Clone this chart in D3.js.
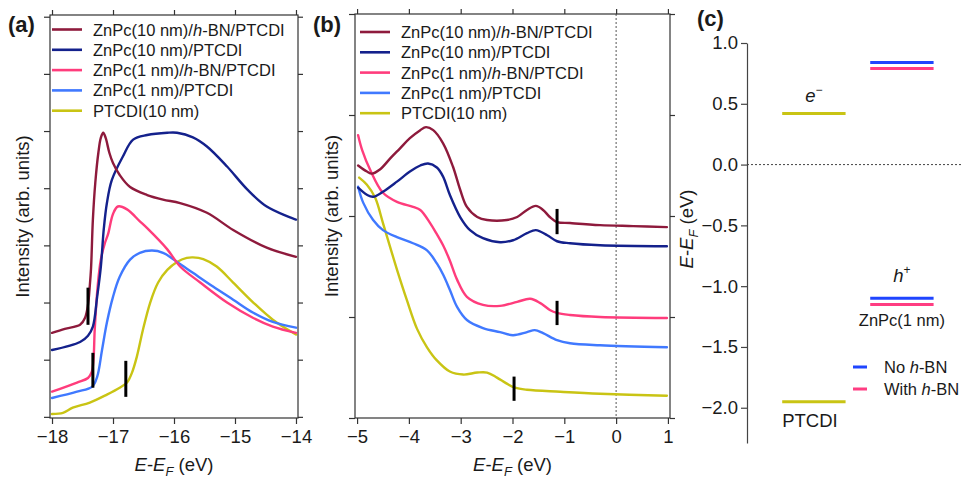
<!DOCTYPE html>
<html><head><meta charset="utf-8">
<script src="https://cdn.jsdelivr.net/npm/d3@7"></script>
<style>
body{margin:0;background:#fff;}
svg text{font-family:"Liberation Sans",Arial,Helvetica,sans-serif;fill:#1a1a1a;}
</style></head><body>
<svg id="fig" width="961" height="479"></svg>
<script>
// ---------- data: (a) secondary-electron cutoff region, [E-EF (eV), intensity] ----------
const cutoffZnPc10hBN = [[-18,1.47],[-17.79,1.54],[-17.54,1.61],[-17.46,1.73],[-17.41,1.96],[-17.38,2.30],[-17.36,2.60],[-17.33,3.45],[-17.29,4.10],[-17.24,4.62],[-17.20,4.88],[-17.16,4.97],[-17.12,4.88],[-17.06,4.62],[-17.0,4.44],[-16.89,4.23],[-16.72,4.02],[-16.44,3.88],[-16.18,3.80],[-15.90,3.74],[-15.46,3.57],[-15.03,3.27],[-14.48,2.96],[-14.0,2.80]];
const cutoffZnPc10 = [[-18,1.17],[-17.54,1.31],[-17.41,1.42],[-17.33,1.58],[-17.26,2.10],[-17.20,2.62],[-17.15,3.30],[-17.10,3.74],[-17.02,4.14],[-16.84,4.55],[-16.67,4.85],[-16.44,4.93],[-16.11,4.97],[-15.95,4.97],[-15.69,4.89],[-15.46,4.73],[-15.13,4.38],[-14.80,3.98],[-14.48,3.68],[-14.0,3.45]];
const cutoffZnPc1hBN = [[-18,0.44],[-17.59,0.60],[-17.41,0.68],[-17.35,0.78],[-17.32,1.0],[-17.30,1.52],[-17.25,2.30],[-17.20,2.75],[-17.13,3.05],[-17.08,3.20],[-17.0,3.55],[-16.92,3.68],[-16.77,3.63],[-16.56,3.42],[-16.44,3.30],[-16.11,2.93],[-15.90,2.63],[-15.57,2.35],[-15.13,2.00],[-14.70,1.73],[-14.38,1.58],[-14.0,1.47]];
const cutoffZnPc1 = [[-18,0.33],[-17.59,0.44],[-17.34,0.53],[-17.26,0.70],[-17.18,1.17],[-17.10,1.65],[-17.0,2.10],[-16.89,2.45],[-16.72,2.75],[-16.56,2.87],[-16.36,2.91],[-16.18,2.87],[-15.95,2.71],[-15.69,2.52],[-15.36,2.28],[-15.03,2.05],[-14.70,1.82],[-14.38,1.66],[-14.0,1.56]];
const cutoffPTCDI = [[-18,0.05],[-17.82,0.07],[-17.66,0.16],[-17.38,0.25],[-17.10,0.39],[-16.89,0.51],[-16.77,0.60],[-16.69,0.77],[-16.61,1.05],[-16.51,1.52],[-16.39,2.0],[-16.26,2.35],[-16.11,2.57],[-15.95,2.71],[-15.79,2.78],[-15.69,2.79],[-15.52,2.76],[-15.30,2.63],[-15.03,2.35],[-14.70,2.0],[-14.38,1.70],[-14.0,1.44]];
// onset markers: [E, lower intensity, upper intensity]
const cutoffMarkers = [[-17.41,1.61,2.26],[-17.33,0.51,1.12],[-16.79,0.35,0.98]];

// ---------- data: (b) valence region ----------
const valenceZnPc10hBN = [[-4.98,2.50],[-4.81,2.44],[-4.71,2.42],[-4.56,2.46],[-4.36,2.57],[-4.17,2.67],[-3.98,2.77],[-3.78,2.85],[-3.67,2.88],[-3.53,2.85],[-3.34,2.72],[-3.15,2.49],[-3.01,2.26],[-2.88,2.09],[-2.68,1.99],[-2.49,1.96],[-2.11,1.96],[-1.91,1.99],[-1.72,2.06],[-1.55,2.10],[-1.41,2.06],[-1.28,1.99],[-1.14,1.94],[-0.89,1.93],[-0.31,1.91],[0.33,1.90],[0.98,1.89]];
const valenceZnPc10 = [[-4.98,2.28],[-4.81,2.21],[-4.69,2.19],[-4.50,2.24],[-4.23,2.34],[-3.98,2.44],[-3.78,2.50],[-3.63,2.52],[-3.46,2.48],[-3.34,2.39],[-3.21,2.21],[-3.01,1.99],[-2.82,1.86],[-2.57,1.78],[-2.24,1.74],[-1.99,1.76],[-1.72,1.83],[-1.55,1.86],[-1.33,1.81],[-1.14,1.75],[-0.89,1.73],[-0.31,1.71],[0.98,1.70]];
const valenceZnPc1hBN = [[-4.98,2.80],[-4.90,2.65],[-4.75,2.46],[-4.50,2.23],[-4.23,2.14],[-3.92,2.09],[-3.78,2.06],[-3.59,1.93],[-3.46,1.82],[-3.34,1.71],[-3.21,1.56],[-3.07,1.37],[-2.88,1.20],[-2.57,1.12],[-2.24,1.11],[-1.91,1.15],[-1.66,1.18],[-1.47,1.14],[-1.28,1.07],[-1.14,1.04],[-0.89,1.02],[-0.31,1.00],[0.98,0.99]];
const valenceZnPc1 = [[-4.98,2.29],[-4.88,2.13],[-4.69,1.96],[-4.50,1.86],[-4.23,1.79],[-3.92,1.73],[-3.65,1.66],[-3.46,1.53],[-3.34,1.42],[-3.21,1.27],[-3.07,1.10],[-2.88,0.97],[-2.57,0.89],[-2.24,0.85],[-1.99,0.82],[-1.72,0.85],[-1.57,0.87],[-1.41,0.84],[-1.14,0.77],[-0.89,0.74],[-0.31,0.72],[0.98,0.70]];
const valencePTCDI = [[-4.96,2.38],[-4.81,2.31],[-4.65,2.18],[-4.50,1.93],[-4.36,1.69],[-4.23,1.47],[-4.04,1.17],[-3.84,0.88],[-3.65,0.70],[-3.46,0.57],[-3.21,0.46],[-2.95,0.43],[-2.68,0.45],[-2.49,0.45],[-2.30,0.40],[-2.11,0.34],[-1.95,0.30],[-1.72,0.28],[-1.08,0.26],[-0.31,0.24],[0.98,0.22]];
const valenceMarkers = [[-1.14,1.82,2.07],[-1.14,0.92,1.16],[-1.97,0.17,0.41]];

// ---------- data: (c) energy levels relative to EF (eV) ----------
const levelGroups = ["PTCDI", "ZnPc"];
const ptcdiLevels = [0.42, -1.95];
const znpcNoHBN = [0.84, -1.10];
const znpcWithHBN = [0.79, -1.15];

// ---------- labels and ticks ----------
const seriesLabels = [
  ["ZnPc(10 nm)/", "h", "-BN/PTCDI"],
  ["ZnPc(10 nm)/PTCDI"],
  ["ZnPc(1 nm)/", "h", "-BN/PTCDI"],
  ["ZnPc(1 nm)/PTCDI"],
  ["PTCDI(10 nm)"]
];
const seriesColors = ["#8e1a3c", "#14218c", "#ff3c7c", "#4079ff", "#c9c414"];
const cutoffTicks = [-18, -17, -16, -15, -14];
const valenceTicks = [-5, -4, -3, -2, -1, 0, 1];
const levelTicks = [1.0, 0.5, 0.0, -0.5, -1.0, -1.5, -2.0];

const svg = d3.select("#fig");
const FONT = 18.5;

function addTitle(g, x, y, rotate) {
  // E-E_F (eV) with italic symbols and a subscript F
  const t = g.append("text")
    .attr("transform", `translate(${x},${y})` + (rotate ? " rotate(-90)" : ""))
    .attr("text-anchor", "middle").style("font-size", FONT + "px");
  t.append("tspan").style("font-style", "italic").text("E");
  t.append("tspan").text("-");
  t.append("tspan").style("font-style", "italic").text("E");
  t.append("tspan").style("font-style", "italic").style("font-size", "13px").attr("dy", 5).text("F");
  t.append("tspan").attr("dy", -5).text(" (eV)");
}

function spectrumPanel(cfg) {
  const x = d3.scaleLinear().domain(cfg.xDomain).range(cfg.xRange);
  const y = d3.scaleLinear().domain(cfg.yDomain).range(cfg.yRange);
  const g = svg.append("g");
  const [x0, x1] = cfg.xRange, [yb, yt] = cfg.yRange;

  // ticks on all four sides, pointing outward
  const style = sel => { sel.select(".domain").remove(); sel.selectAll("line").attr("stroke", "#333").attr("stroke-width", 1.2); };
  g.append("g").attr("transform", `translate(0,${yb})`)
    .call(d3.axisBottom(x).tickValues(cfg.xTicks).tickSize(6).tickPadding(6).tickFormat(d3.format("d")))
    .call(style).call(s => s.selectAll("text").style("font-size", FONT + "px").attr("fill", "#1a1a1a"));
  g.append("g").attr("transform", `translate(0,${yt})`)
    .call(d3.axisTop(x).tickValues(cfg.xTicks).tickSize(5).tickFormat("")).call(style);
  g.append("g").attr("transform", `translate(${x0},0)`)
    .call(d3.axisLeft(y).tickValues(cfg.yTicks).tickSize(6).tickFormat("")).call(style);
  g.append("g").attr("transform", `translate(${x1},0)`)
    .call(d3.axisRight(y).tickValues(cfg.yTicks).tickSize(5).tickFormat("")).call(style);
  g.selectAll(".tick text").attr("font-family", null);

  if (cfg.fermi !== undefined) {
    g.append("line").attr("x1", x(cfg.fermi)).attr("x2", x(cfg.fermi))
      .attr("y1", yt).attr("y2", yb)
      .attr("stroke", "#555").attr("stroke-width", 1).attr("stroke-dasharray", "2,2");
  }

  const line = d3.line().x(d => x(d[0])).y(d => y(d[1])).curve(d3.curveCatmullRom.alpha(0.5));
  // lower series first so the upper curves sit on top
  cfg.series.slice().reverse().forEach((s, i) => {
    const idx = cfg.series.length - 1 - i;
    g.append("path").datum(s).attr("d", line).attr("fill", "none")
      .attr("stroke", seriesColors[idx]).attr("stroke-width", 2.4)
      .attr("stroke-linejoin", "round").attr("stroke-linecap", "round");
  });

  g.selectAll(".onset").data(cfg.markers).join("line")
    .attr("x1", d => x(d[0])).attr("x2", d => x(d[0]))
    .attr("y1", d => y(d[1])).attr("y2", d => y(d[2]))
    .attr("stroke", "#000").attr("stroke-width", 3);

  g.append("rect").attr("x", x0).attr("y", yt).attr("width", x1 - x0).attr("height", yb - yt)
    .attr("fill", "none").attr("stroke", "#333").attr("stroke-width", 1.2);

  // legend
  const lg = g.append("g").attr("transform", `translate(${cfg.legend[0]},${cfg.legend[1]})`);
  seriesLabels.forEach((parts, i) => {
    const yy = i * 20.3;
    lg.append("line").attr("x1", 0).attr("x2", 30).attr("y1", yy).attr("y2", yy)
      .attr("stroke", seriesColors[i]).attr("stroke-width", 2.6);
    const t = lg.append("text").attr("x", 41).attr("y", yy + 6).style("font-size", "16.5px");
    parts.forEach((p, k) => t.append("tspan").style("font-style", k === 1 ? "italic" : "normal").text(p));
  });

  // axis titles
  addTitle(g, (x0 + x1) / 2, 471, false);
  g.append("text").attr("transform", `translate(${cfg.yTitleX},${(yb + yt) / 2}) rotate(-90)`)
    .attr("text-anchor", "middle").style("font-size", FONT + "px").text("Intensity (arb. units)");
  g.append("text").attr("x", cfg.tag[0]).attr("y", cfg.tag[1])
    .style("font-size", "22px").style("font-weight", "bold").text(cfg.tagText);
}

spectrumPanel({
  xDomain: [-18.033, -13.967], xRange: [50, 298],
  yDomain: [-0.02, 7.03], yRange: [418, 15],
  xTicks: cutoffTicks, yTicks: d3.range(0, 8),
  series: [cutoffZnPc10hBN, cutoffZnPc10, cutoffZnPc1hBN, cutoffZnPc1, cutoffPTCDI],
  markers: cutoffMarkers, legend: [52, 29.5], yTitleX: 28.5, tag: [8, 32], tagText: "(a)"
});

spectrumPanel({
  xDomain: [-5.04, 1.04], xRange: [355, 670],
  yDomain: [0, 4], yRange: [418, 14],
  xTicks: valenceTicks, yTicks: [0, 1, 2, 3, 4], fermi: 0,
  series: [valenceZnPc10hBN, valenceZnPc10, valenceZnPc1hBN, valenceZnPc1, valencePTCDI],
  markers: valenceMarkers, legend: [360, 32], yTitleX: 338, tag: [313, 32], tagText: "(b)"
});

// ---------- (c) energy level diagram ----------
(function () {
  const g = svg.append("g");
  const y = d3.scaleLinear().domain([-2.29, 1.0]).range([443, 43]);
  const x = d3.scaleBand().domain(levelGroups).range([747, 968.8]).paddingInner(0.28).paddingOuter(0.4);
  const axisX = 747;

  g.append("g").attr("transform", `translate(${axisX},0)`)
    .call(d3.axisLeft(y).tickValues(levelTicks).tickSize(6).tickSizeOuter(0).tickPadding(3).tickFormat(d3.format(".1f")))
    .call(s => { s.select(".domain").attr("stroke", "#444").attr("stroke-width", 1.2);
                 s.selectAll("line").attr("stroke", "#444").attr("stroke-width", 1.2);
                 s.selectAll("text").attr("font-family", null).style("font-size", FONT + "px").attr("fill", "#1a1a1a"); });

  g.append("line").attr("x1", axisX).attr("x2", 961).attr("y1", y(0)).attr("y2", y(0))
    .attr("stroke", "#444").attr("stroke-width", 1).attr("stroke-dasharray", "2,2");

  const bar = (group, v, color) => g.append("line")
    .attr("x1", x(group)).attr("x2", x(group) + x.bandwidth())
    .attr("y1", y(v)).attr("y2", y(v)).attr("stroke", color).attr("stroke-width", 3);
  const cYellow = "#c9c414", cBlue = "#1f45ff", cPink = "#ff3d82";
  ptcdiLevels.forEach(v => bar("PTCDI", v, cYellow));
  znpcNoHBN.forEach(v => bar("ZnPc", v, cBlue));
  znpcWithHBN.forEach(v => bar("ZnPc", v, cPink));

  const cx = n => x(n) + x.bandwidth() / 2;
  const e = g.append("text").attr("x", cx("PTCDI")).attr("y", y(ptcdiLevels[0]) - 12)
    .attr("text-anchor", "middle").style("font-size", FONT + "px");
  e.append("tspan").style("font-style", "italic").text("e");
  e.append("tspan").attr("dy", -8).style("font-size", "12px").text("\u2212");
  const h = g.append("text").attr("x", cx("ZnPc")).attr("y", y(znpcNoHBN[1]) - 16)
    .attr("text-anchor", "middle").style("font-size", FONT + "px");
  h.append("tspan").style("font-style", "italic").text("h");
  h.append("tspan").attr("dy", -8).style("font-size", "12px").text("+");
  g.append("text").attr("x", cx("ZnPc")).attr("y", y(znpcWithHBN[1]) + 22)
    .attr("text-anchor", "middle").style("font-size", "16.5px").text("ZnPc(1 nm)");
  g.append("text").attr("x", x("PTCDI")).attr("y", y(ptcdiLevels[1]) + 25)
    .style("font-size", FONT + "px").text("PTCDI");

  // legend
  [["No ", cBlue], ["With ", cPink]].forEach(([lab, col], i) => {
    const yy = 367 + i * 22;
    g.append("line").attr("x1", 853).attr("x2", 867).attr("y1", yy).attr("y2", yy)
      .attr("stroke", col).attr("stroke-width", 3);
    const t = g.append("text").attr("x", 884).attr("y", yy + 6).style("font-size", "16.5px");
    t.append("tspan").text(lab);
    t.append("tspan").style("font-style", "italic").text("h");
    t.append("tspan").text("-BN");
  });

  addTitle(g, 693, 229, true);
  g.append("text").attr("x", 697).attr("y", 26)
    .style("font-size", "22px").style("font-weight", "bold").text("(c)");
})();
</script></body></html>
